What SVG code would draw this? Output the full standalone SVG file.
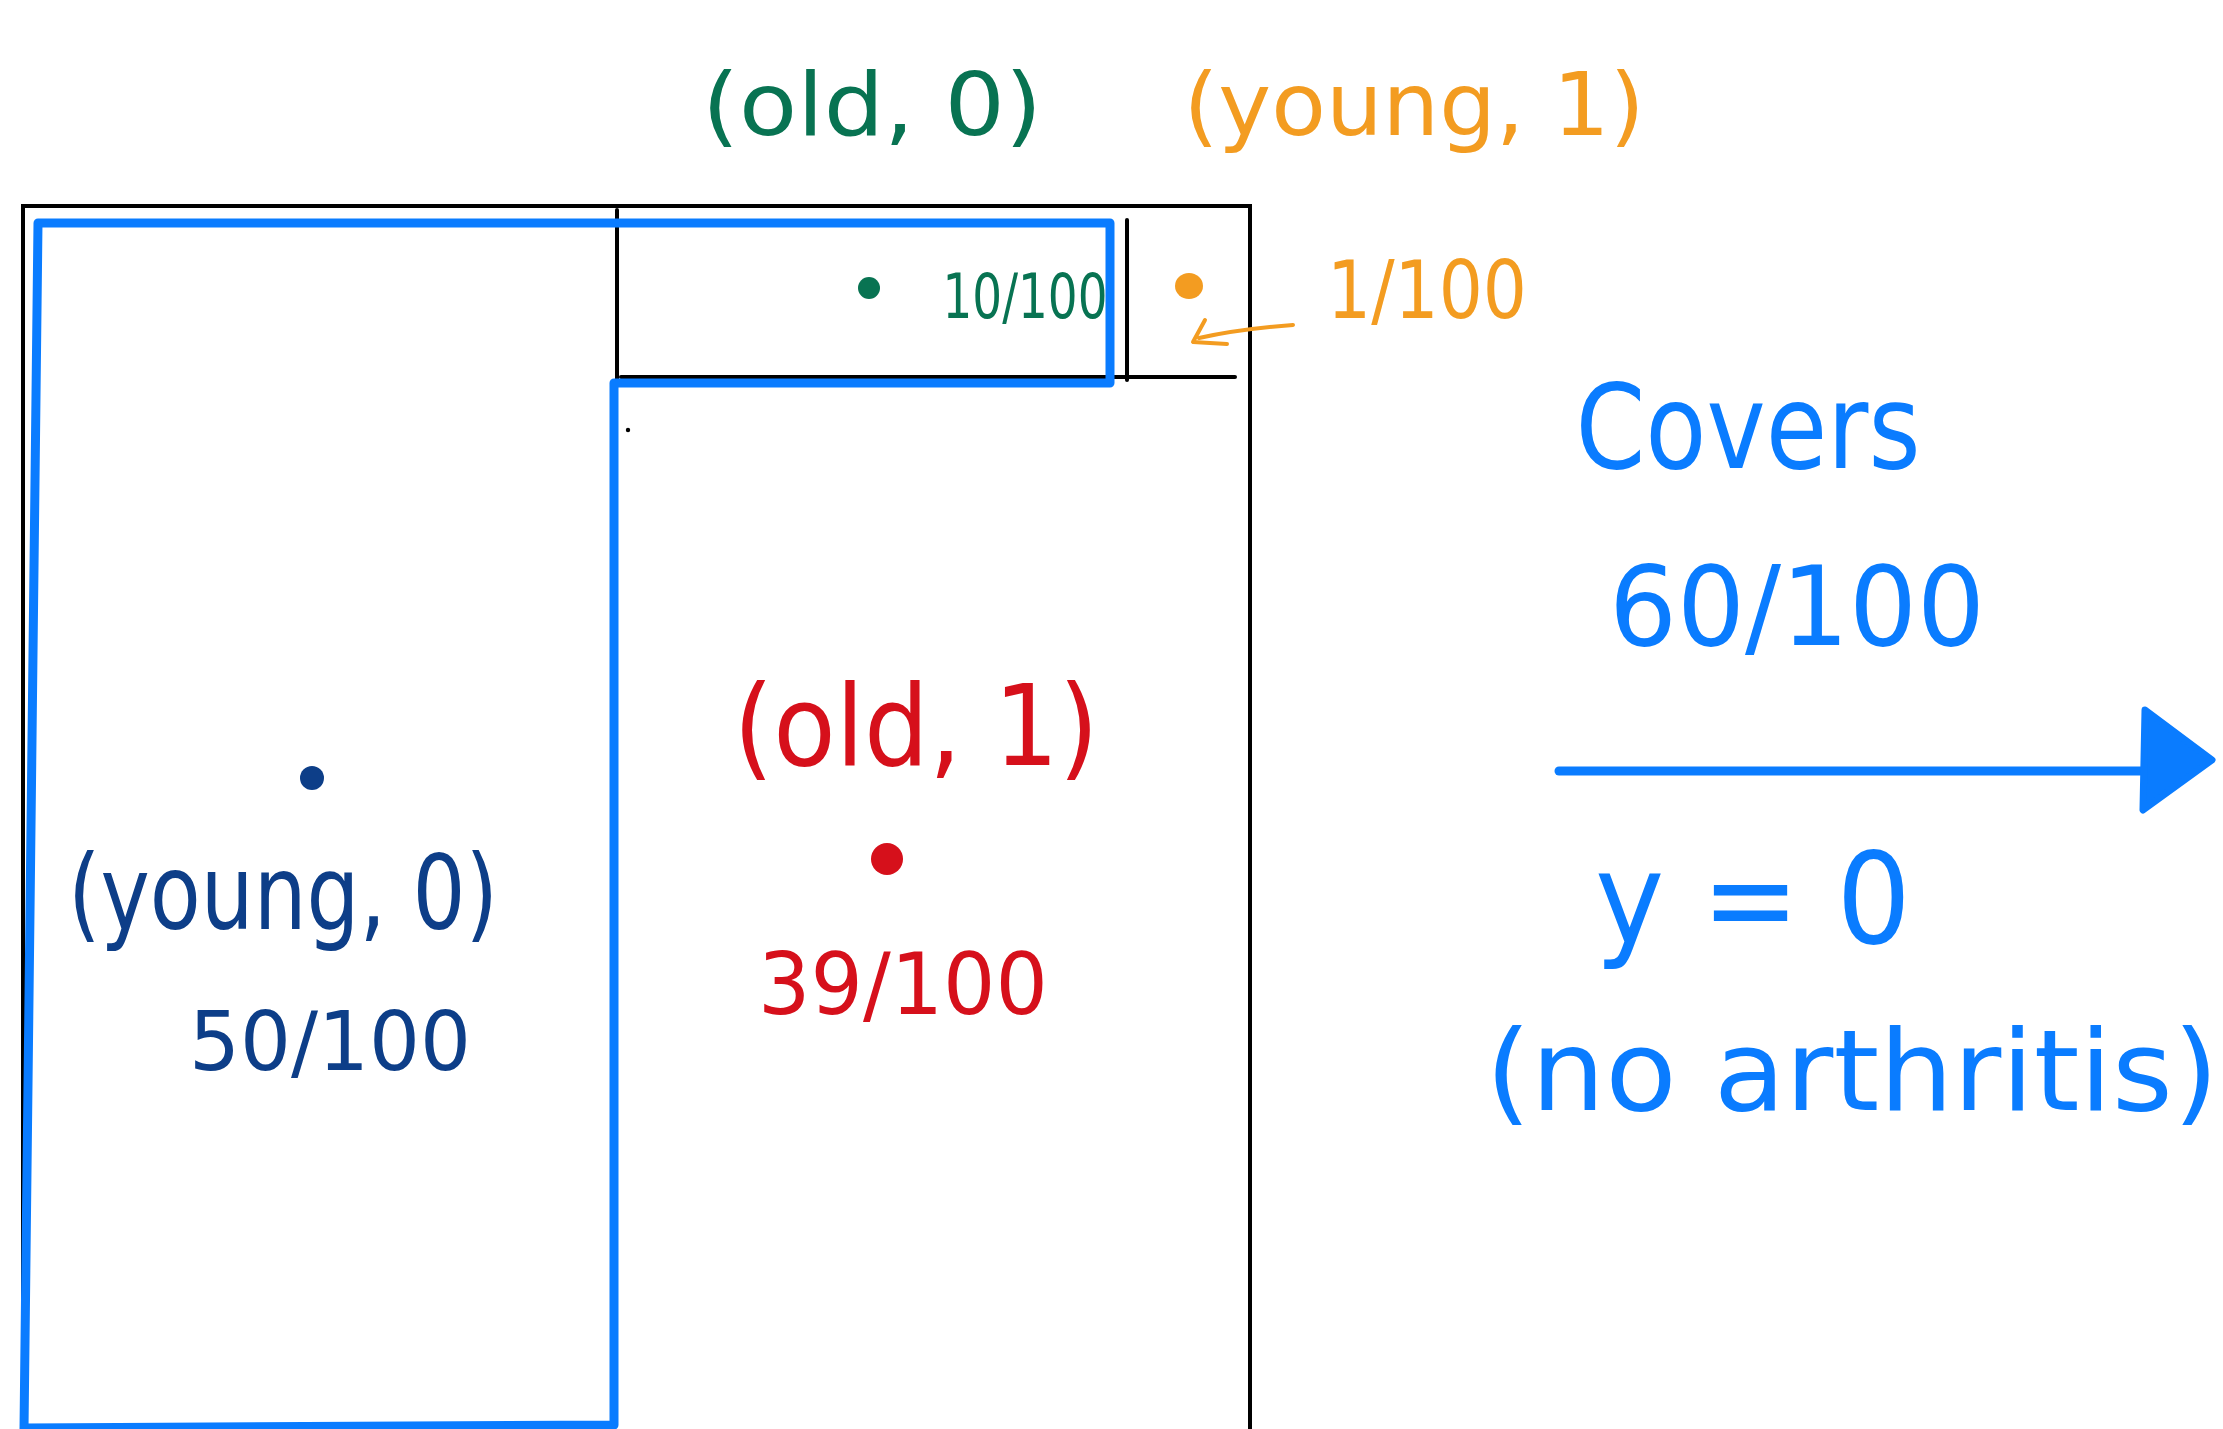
<svg xmlns="http://www.w3.org/2000/svg" width="2223" height="1429" viewBox="0 0 2223 1429">
<style>
.frame{fill:none;stroke:#000;stroke-width:4;stroke-linecap:round}
.hl{fill:none;stroke:#0a7cff;stroke-width:9;stroke-linejoin:round;stroke-linecap:round}
.t{font-family:"DejaVu Sans","Liberation Sans",sans-serif;font-weight:normal}
.green{fill:#087352}
.orange{fill:#f39c21}
.red{fill:#d6101b}
.navy{fill:#0d3e88}
.blue{fill:#0a7cff}
</style>
<rect width="2223" height="1429" fill="#fff"/>

<g id="grid">
<path class="frame" d="M23,1429 L23,206 L1250,206 L1250,1429"/>
<path class="frame" d="M617,210 L617,380"/>
<path class="frame" d="M1127,220 L1127,380"/>
<path class="frame" d="M621,377 L1235,377"/>
<circle cx="628" cy="430" r="2.2" fill="#000"/>
</g>

<g id="highlight">
<path class="hl" d="M24,1429 L38,223 L1110,223 L1110,383 L614,383 L614,1425 L26,1428"/>
</g>

<g id="old-0">
<text class="t green" x="872" y="135" font-size="88" text-anchor="middle" textLength="340" lengthAdjust="spacingAndGlyphs">(old, 0)</text>
<circle cx="869" cy="288" r="11" fill="#087352"/>
<text class="t green" x="1025" y="318" font-size="62" text-anchor="middle" textLength="165" lengthAdjust="spacingAndGlyphs">10/100</text>
</g>

<g id="young-1">
<text class="t orange" x="1414" y="135" font-size="88" text-anchor="middle" textLength="461" lengthAdjust="spacingAndGlyphs">(young, 1)</text>
<ellipse cx="1189" cy="286" rx="14" ry="13" fill="#f39c21"/>
<text class="t orange" x="1427" y="318" font-size="80" text-anchor="middle" textLength="200" lengthAdjust="spacingAndGlyphs">1/100</text>
</g>

<g id="old-1">
<text class="t red" x="916" y="765" font-size="112" text-anchor="middle" textLength="365" lengthAdjust="spacingAndGlyphs">(old, 1)</text>
<circle cx="887" cy="859" r="16" fill="#d6101b"/>
<text class="t red" x="903" y="1014" font-size="86" text-anchor="middle" textLength="290" lengthAdjust="spacingAndGlyphs">39/100</text>
</g>

<g id="young-0">
<circle cx="312" cy="778" r="12" fill="#0d3e88"/>
<text class="t navy" x="283" y="929" font-size="104" text-anchor="middle" textLength="430" lengthAdjust="spacingAndGlyphs">(young, 0)</text>
<text class="t navy" x="330" y="1070" font-size="82" text-anchor="middle" textLength="282" lengthAdjust="spacingAndGlyphs">50/100</text>
</g>

<g id="summary">
<text class="t blue" x="1748" y="468" font-size="118" text-anchor="middle" textLength="345" lengthAdjust="spacingAndGlyphs">Covers</text>
<text class="t blue" x="1797" y="645" font-size="110" text-anchor="middle" textLength="376" lengthAdjust="spacingAndGlyphs">60/100</text>
<text class="t blue" x="1753" y="943" font-size="126" text-anchor="middle" textLength="316" lengthAdjust="spacingAndGlyphs">y = 0</text>
<text class="t blue" x="1852" y="1110" font-size="112" text-anchor="middle" textLength="733" lengthAdjust="spacingAndGlyphs">(no arthritis)</text>
</g>

<g id="connectors">
<path d="M1559,771 L2150,771" fill="none" stroke="#0a7cff" stroke-width="9" stroke-linecap="round"/>
<path d="M2145,710 L2212,760 L2143,810 z" fill="#0a7cff" stroke="#0a7cff" stroke-width="7" stroke-linejoin="round"/>
<path d="M1293,325 Q1240,329 1199,338" fill="none" stroke="#f39c21" stroke-width="4" stroke-linecap="round"/>
<path d="M1205,320 L1193,342 L1227,344" fill="none" stroke="#f39c21" stroke-width="4" stroke-linecap="round" stroke-linejoin="round"/>
</g>
</svg>
